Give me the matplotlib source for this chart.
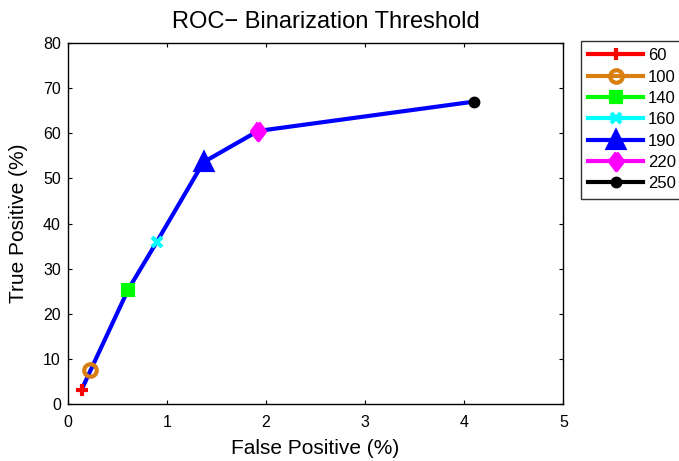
import matplotlib
matplotlib.use("Agg")
import matplotlib.pyplot as plt

plt.rcParams['font.family'] = ['Liberation Sans', 'DejaVu Sans']

thresholds = ['60', '100', '140', '160', '190', '220', '250']
false_pos = [0.14, 0.23, 0.61, 0.90, 1.37, 1.92, 4.10]
true_pos = [3.2, 7.5, 25.4, 36.0, 53.6, 60.5, 67.0]

colors = ['#FF0000', '#D97F12', '#00FF00', '#00FFFF', '#0000FF', '#FF00FF', '#000000']
diamond = [(0, 1), (0.75, 0), (0, -1), (-0.75, 0), (0, 1)]
markers = ['+', 'o', 's', 'x', '^', diamond, 'o']
msizes = [8.5, 9, 7.5, 7, 12, 12.5, 5.5]
faces = ['#FF0000', 'none', '#00FF00', '#00FFFF', '#0000FF', '#FF00FF', '#000000']

fig = plt.figure(figsize=(6.79, 4.61), dpi=100)
ax = fig.add_axes([0.0997, 0.123, 0.730, 0.784])

ax.plot(false_pos, true_pos, color='#0000FF', lw=3, zorder=2)
for i, lab in enumerate(thresholds):
    ax.plot([false_pos[i]], [true_pos[i]], color=colors[i], lw=3,
            marker=markers[i], ms=msizes[i], mew=3, mfc=faces[i],
            mec=colors[i], label=lab, zorder=3)

ax.set_xlim(0, 5)
ax.set_ylim(0, 80)
ax.set_xticks(range(0, 6))
ax.set_yticks(range(0, 81, 10))
ax.tick_params(direction='in', top=True, right=True, labelsize=11.5, length=3, width=0.8)
ax.tick_params(axis='x', pad=8)
ax.tick_params(axis='y', pad=5)
for s in ax.spines.values():
    s.set_linewidth(1.0)
ax.set_xlabel('False Positive (%)', fontsize=15, labelpad=6)
ax.set_ylabel('True Positive (%)', fontsize=15, labelpad=11)
ax.set_title('ROC\u2212 Binarization Threshold', fontsize=17, pad=11, x=0.521)

leg = fig.legend(loc='upper left', bbox_to_anchor=(580.7 / 679, 1 - 40.7 / 461),
                 fontsize=12, frameon=True, fancybox=False, edgecolor='black',
                 handlelength=3.3, handletextpad=0.3, labelspacing=0.38,
                 borderpad=0.45, borderaxespad=0)
leg.get_frame().set_linewidth(1.0)

fig.savefig('out.png', dpi=100)
